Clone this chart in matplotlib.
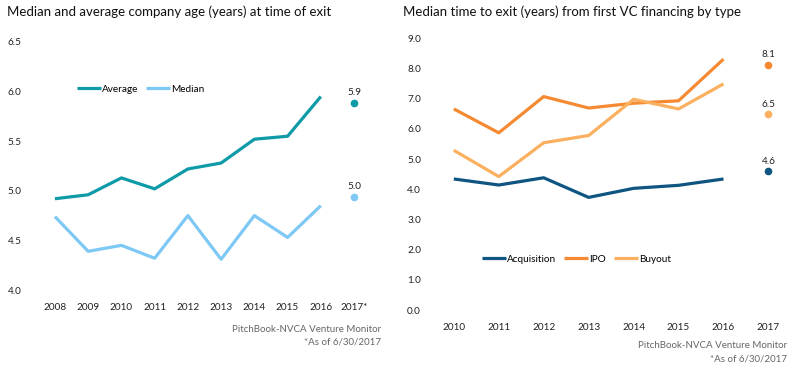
import matplotlib
matplotlib.use("Agg")
import matplotlib.pyplot as plt

plt.rcParams["font.family"] = ["Lato", "DejaVu Sans"]

# left panel: company age at exit
age_years = [2008, 2009, 2010, 2011, 2012, 2013, 2014, 2015, 2016]
age_avg = [4.92, 4.96, 5.13, 5.02, 5.22, 5.28, 5.52, 5.55, 5.95]
age_median = [4.74, 4.39, 4.45, 4.32, 4.75, 4.31, 4.75, 4.53, 4.85]
age_2017_avg = 5.89
age_2017_median = 4.94
age_2017_labels = ["5.9", "5.0"]
age_ticks = [2008, 2009, 2010, 2011, 2012, 2013, 2014, 2015, 2016, 2017]
age_ticklabels = ["2008", "2009", "2010", "2011", "2012", "2013", "2014", "2015", "2016", "2017*"]

# right panel: time to exit by type
tte_years = [2010, 2011, 2012, 2013, 2014, 2015, 2016]
tte_acq = [4.34, 4.14, 4.38, 3.73, 4.03, 4.13, 4.34]
tte_ipo = [6.66, 5.87, 7.07, 6.69, 6.85, 6.93, 8.31]
tte_buyout = [5.29, 4.42, 5.54, 5.78, 6.98, 6.66, 7.49]
tte_2017 = {"acq": 4.59, "ipo": 8.12, "buyout": 6.49}
tte_2017_labels = {"acq": "4.6", "ipo": "8.1", "buyout": "6.5"}
tte_ticks = [2010, 2011, 2012, 2013, 2014, 2015, 2016, 2017]

C_AVG = "#0f9aa8"
C_MED = "#7dc8f5"
C_ACQ = "#0e5582"
C_IPO = "#f58a32"
C_BUY = "#fbb05f"
TXT = "#222222"
GREY = "#666666"
FS = 7.2

W, H = 797, 370
fig = plt.figure(figsize=(W / 100, H / 100), dpi=100)


def px_axes(x0, y_top, x1, y_bot):
    return fig.add_axes([x0 / W, 1 - y_bot / H, (x1 - x0) / W, (y_bot - y_top) / H])


def clean(ax):
    for s in ax.spines.values():
        s.set_visible(False)
    ax.tick_params(length=0, labelsize=FS, colors=TXT)


# ---- left chart
ax1 = px_axes(30, 42, 375, 290)
clean(ax1)
ax1.tick_params(axis="x", pad=9)
ax1.plot(age_years, age_avg, color=C_AVG, lw=2.3, label="Average", solid_capstyle="butt")
ax1.plot(age_years, age_median, color=C_MED, lw=2.3, label="Median", solid_capstyle="butt")
for val, col, txt in [(age_2017_avg, C_AVG, age_2017_labels[0]), (age_2017_median, C_MED, age_2017_labels[1])]:
    ax1.plot(2017, val, "o", color=col, ms=4.5)
    ax1.annotate(txt, (2017, val), xytext=(0, 4), textcoords="offset points",
                 ha="center", va="bottom", fontsize=FS, color=TXT)
ax1.set_xlim(2007.25, 2017.63)
ax1.set_ylim(4.0, 6.5)
yt1 = [4.0, 4.5, 5.0, 5.5, 6.0, 6.5]
ax1.set_yticks(yt1)
ax1.set_yticklabels([f"{v:.1f}" for v in yt1])
for lab in ax1.get_yticklabels():
    lab.set_horizontalalignment("left")
ax1.tick_params(axis="y", pad=16)
ax1.set_xticks(age_ticks)
ax1.set_xticklabels(age_ticklabels)
ax1.legend(loc="center left", bbox_to_anchor=(77 / W, 1 - 89 / H), bbox_transform=fig.transFigure,
           ncol=2, frameon=False, fontsize=FS, handlelength=2.4, handletextpad=0.1,
           columnspacing=0.8, borderpad=0, borderaxespad=0)

fig.text(7 / W, 1 - 12 / H, "Median and average company age (years) at time of exit",
         fontsize=9.5, color="#111111", va="center", ha="left")
fig.text(381 / W, 1 - 329 / H, "PitchBook-NVCA Venture Monitor", fontsize=7, color=GREY,
         ha="right", va="center")
fig.text(381 / W, 1 - 342 / H, "*As of 6/30/2017", fontsize=7, color=GREY, ha="right", va="center")

# ---- right chart
ax2 = px_axes(430, 38.3, 790, 310)
clean(ax2)
ax2.tick_params(axis="x", pad=9)
ax2.plot(tte_years, tte_acq, color=C_ACQ, lw=2.3, label="Acquisition", solid_capstyle="butt")
ax2.plot(tte_years, tte_ipo, color=C_IPO, lw=2.3, label="IPO", solid_capstyle="butt")
ax2.plot(tte_years, tte_buyout, color=C_BUY, lw=2.3, label="Buyout", solid_capstyle="butt")
for key, col in [("acq", C_ACQ), ("ipo", C_IPO), ("buyout", C_BUY)]:
    ax2.plot(2017, tte_2017[key], "o", color=col, ms=4.5)
    ax2.annotate(tte_2017_labels[key], (2017, tte_2017[key]), xytext=(0, 4), textcoords="offset points",
                 ha="center", va="bottom", fontsize=FS, color=TXT)
ax2.set_xlim(2009.47, 2017.48)
ax2.set_ylim(0, 9)
yt2 = list(range(0, 10))
ax2.set_yticks(yt2)
ax2.set_yticklabels([f"{v:.1f}" for v in yt2])
for lab in ax2.get_yticklabels():
    lab.set_horizontalalignment("left")
ax2.tick_params(axis="y", pad=16.5)
ax2.set_xticks(tte_ticks)
ax2.set_xticklabels([str(t) for t in tte_ticks])
ax2.legend(loc="center left", bbox_to_anchor=(482 / W, 1 - 259 / H), bbox_transform=fig.transFigure,
           ncol=3, frameon=False, fontsize=FS, handlelength=2.4, handletextpad=0.1,
           columnspacing=0.8, borderpad=0, borderaxespad=0)

fig.text(403 / W, 1 - 12 / H, "Median time to exit (years) from first VC financing by type",
         fontsize=9.5, color="#111111", va="center", ha="left")
fig.text(787 / W, 1 - 346 / H, "PitchBook-NVCA Venture Monitor", fontsize=7, color=GREY,
         ha="right", va="center")
fig.text(787 / W, 1 - 359 / H, "*As of 6/30/2017", fontsize=7, color=GREY, ha="right", va="center")

fig.savefig("out.png", dpi=100)
